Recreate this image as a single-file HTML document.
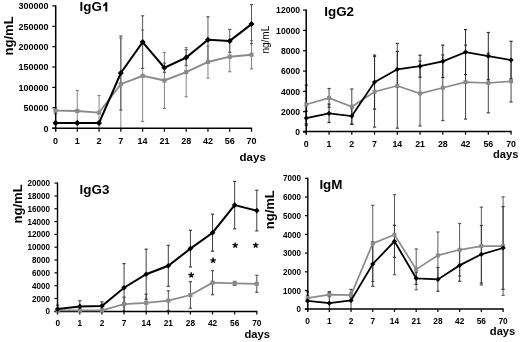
<!DOCTYPE html>
<html><head><meta charset="utf-8"><title>Immunoglobulin levels</title>
<style>
html,body{margin:0;padding:0;background:#fff;}
body{width:520px;height:342px;overflow:hidden;}
svg{display:block;will-change:transform;}
text{font-family:"Liberation Sans", sans-serif;fill:#000;}
</style></head>
<body>
<svg width="520" height="342" viewBox="0 0 520 342">
<rect x="0" y="0" width="520" height="342" fill="#fff"/>
<line x1="55.5" y1="107.6" x2="55.5" y2="113.6" stroke="#858585" stroke-width="1.0"/>
<line x1="53.9" y1="107.6" x2="57.1" y2="107.6" stroke="#858585" stroke-width="1.2"/>
<line x1="53.9" y1="113.6" x2="57.1" y2="113.6" stroke="#858585" stroke-width="1.2"/>
<line x1="77.28" y1="90.5" x2="77.28" y2="128.2" stroke="#858585" stroke-width="1.0"/>
<line x1="75.68" y1="90.5" x2="78.88" y2="90.5" stroke="#858585" stroke-width="1.2"/>
<line x1="99.06" y1="95.5" x2="99.06" y2="128.2" stroke="#858585" stroke-width="1.0"/>
<line x1="97.46" y1="95.5" x2="100.66" y2="95.5" stroke="#858585" stroke-width="1.2"/>
<line x1="120.84" y1="38.2" x2="120.84" y2="128.2" stroke="#858585" stroke-width="1.0"/>
<line x1="119.24" y1="38.2" x2="122.44" y2="38.2" stroke="#858585" stroke-width="1.2"/>
<line x1="142.62" y1="30.1" x2="142.62" y2="121.5" stroke="#858585" stroke-width="1.0"/>
<line x1="141.02" y1="30.1" x2="144.22" y2="30.1" stroke="#858585" stroke-width="1.2"/>
<line x1="141.02" y1="121.5" x2="144.22" y2="121.5" stroke="#858585" stroke-width="1.2"/>
<line x1="164.4" y1="52.5" x2="164.4" y2="108.5" stroke="#858585" stroke-width="1.0"/>
<line x1="162.8" y1="52.5" x2="166" y2="52.5" stroke="#858585" stroke-width="1.2"/>
<line x1="162.8" y1="108.5" x2="166" y2="108.5" stroke="#858585" stroke-width="1.2"/>
<line x1="186.18" y1="47.5" x2="186.18" y2="96.7" stroke="#858585" stroke-width="1.0"/>
<line x1="184.58" y1="47.5" x2="187.78" y2="47.5" stroke="#858585" stroke-width="1.2"/>
<line x1="184.58" y1="96.7" x2="187.78" y2="96.7" stroke="#858585" stroke-width="1.2"/>
<line x1="207.96" y1="46" x2="207.96" y2="78" stroke="#858585" stroke-width="1.0"/>
<line x1="206.36" y1="46" x2="209.56" y2="46" stroke="#858585" stroke-width="1.2"/>
<line x1="206.36" y1="78" x2="209.56" y2="78" stroke="#858585" stroke-width="1.2"/>
<line x1="229.74" y1="41.7" x2="229.74" y2="71.7" stroke="#858585" stroke-width="1.0"/>
<line x1="228.14" y1="41.7" x2="231.34" y2="41.7" stroke="#858585" stroke-width="1.2"/>
<line x1="228.14" y1="71.7" x2="231.34" y2="71.7" stroke="#858585" stroke-width="1.2"/>
<line x1="251.52" y1="40.5" x2="251.52" y2="68.9" stroke="#858585" stroke-width="1.0"/>
<line x1="249.92" y1="40.5" x2="253.12" y2="40.5" stroke="#858585" stroke-width="1.2"/>
<line x1="249.92" y1="68.9" x2="253.12" y2="68.9" stroke="#858585" stroke-width="1.2"/>
<line x1="55.5" y1="121.4" x2="55.5" y2="124.4" stroke="#5a5a5a" stroke-width="1.0"/>
<line x1="53.9" y1="121.4" x2="57.1" y2="121.4" stroke="#5a5a5a" stroke-width="1.2"/>
<line x1="53.9" y1="124.4" x2="57.1" y2="124.4" stroke="#5a5a5a" stroke-width="1.2"/>
<line x1="77.28" y1="121.4" x2="77.28" y2="124.4" stroke="#5a5a5a" stroke-width="1.0"/>
<line x1="75.68" y1="121.4" x2="78.88" y2="121.4" stroke="#5a5a5a" stroke-width="1.2"/>
<line x1="75.68" y1="124.4" x2="78.88" y2="124.4" stroke="#5a5a5a" stroke-width="1.2"/>
<line x1="99.06" y1="121.4" x2="99.06" y2="124.4" stroke="#5a5a5a" stroke-width="1.0"/>
<line x1="97.46" y1="121.4" x2="100.66" y2="121.4" stroke="#5a5a5a" stroke-width="1.2"/>
<line x1="97.46" y1="124.4" x2="100.66" y2="124.4" stroke="#5a5a5a" stroke-width="1.2"/>
<line x1="120.84" y1="36" x2="120.84" y2="110" stroke="#5a5a5a" stroke-width="1.0"/>
<line x1="119.24" y1="36" x2="122.44" y2="36" stroke="#5a5a5a" stroke-width="1.2"/>
<line x1="119.24" y1="110" x2="122.44" y2="110" stroke="#5a5a5a" stroke-width="1.2"/>
<line x1="142.62" y1="15.8" x2="142.62" y2="68.4" stroke="#5a5a5a" stroke-width="1.0"/>
<line x1="141.02" y1="15.8" x2="144.22" y2="15.8" stroke="#5a5a5a" stroke-width="1.2"/>
<line x1="141.02" y1="68.4" x2="144.22" y2="68.4" stroke="#5a5a5a" stroke-width="1.2"/>
<line x1="164.4" y1="63.1" x2="164.4" y2="72.3" stroke="#5a5a5a" stroke-width="1.0"/>
<line x1="162.8" y1="63.1" x2="166" y2="63.1" stroke="#5a5a5a" stroke-width="1.2"/>
<line x1="162.8" y1="72.3" x2="166" y2="72.3" stroke="#5a5a5a" stroke-width="1.2"/>
<line x1="186.18" y1="49.7" x2="186.18" y2="65.5" stroke="#5a5a5a" stroke-width="1.0"/>
<line x1="184.58" y1="49.7" x2="187.78" y2="49.7" stroke="#5a5a5a" stroke-width="1.2"/>
<line x1="184.58" y1="65.5" x2="187.78" y2="65.5" stroke="#5a5a5a" stroke-width="1.2"/>
<line x1="207.96" y1="16.8" x2="207.96" y2="62.8" stroke="#5a5a5a" stroke-width="1.0"/>
<line x1="206.36" y1="16.8" x2="209.56" y2="16.8" stroke="#5a5a5a" stroke-width="1.2"/>
<line x1="206.36" y1="62.8" x2="209.56" y2="62.8" stroke="#5a5a5a" stroke-width="1.2"/>
<line x1="229.74" y1="29.4" x2="229.74" y2="52.4" stroke="#5a5a5a" stroke-width="1.0"/>
<line x1="228.14" y1="29.4" x2="231.34" y2="29.4" stroke="#5a5a5a" stroke-width="1.2"/>
<line x1="228.14" y1="52.4" x2="231.34" y2="52.4" stroke="#5a5a5a" stroke-width="1.2"/>
<line x1="251.52" y1="4.6" x2="251.52" y2="43.6" stroke="#5a5a5a" stroke-width="1.0"/>
<line x1="249.92" y1="4.6" x2="253.12" y2="4.6" stroke="#5a5a5a" stroke-width="1.2"/>
<line x1="249.92" y1="43.6" x2="253.12" y2="43.6" stroke="#5a5a5a" stroke-width="1.2"/>
<line x1="55.7" y1="5.3" x2="55.7" y2="131.7" stroke="#000" stroke-width="1.5"/>
<line x1="52.3" y1="128.3" x2="252.12" y2="128.3" stroke="#000" stroke-width="1.5"/>
<line x1="52.3" y1="5.9" x2="55.7" y2="5.9" stroke="#000" stroke-width="1.2"/>
<line x1="52.3" y1="26.28" x2="55.7" y2="26.28" stroke="#000" stroke-width="1.2"/>
<line x1="52.3" y1="46.67" x2="55.7" y2="46.67" stroke="#000" stroke-width="1.2"/>
<line x1="52.3" y1="67.05" x2="55.7" y2="67.05" stroke="#000" stroke-width="1.2"/>
<line x1="52.3" y1="87.43" x2="55.7" y2="87.43" stroke="#000" stroke-width="1.2"/>
<line x1="52.3" y1="107.82" x2="55.7" y2="107.82" stroke="#000" stroke-width="1.2"/>
<line x1="52.3" y1="128.2" x2="55.7" y2="128.2" stroke="#000" stroke-width="1.2"/>
<line x1="77.28" y1="128.3" x2="77.28" y2="131.7" stroke="#000" stroke-width="1.2"/>
<line x1="99.06" y1="128.3" x2="99.06" y2="131.7" stroke="#000" stroke-width="1.2"/>
<line x1="120.84" y1="128.3" x2="120.84" y2="131.7" stroke="#000" stroke-width="1.2"/>
<line x1="142.62" y1="128.3" x2="142.62" y2="131.7" stroke="#000" stroke-width="1.2"/>
<line x1="164.4" y1="128.3" x2="164.4" y2="131.7" stroke="#000" stroke-width="1.2"/>
<line x1="186.18" y1="128.3" x2="186.18" y2="131.7" stroke="#000" stroke-width="1.2"/>
<line x1="207.96" y1="128.3" x2="207.96" y2="131.7" stroke="#000" stroke-width="1.2"/>
<line x1="229.74" y1="128.3" x2="229.74" y2="131.7" stroke="#000" stroke-width="1.2"/>
<line x1="251.52" y1="128.3" x2="251.52" y2="131.7" stroke="#000" stroke-width="1.2"/>
<text transform="translate(48.6 9.3) scale(1 1.1)" text-anchor="end" font-size="9" font-weight="bold">300000</text>
<text transform="translate(48.6 29.68) scale(1 1.1)" text-anchor="end" font-size="9" font-weight="bold">250000</text>
<text transform="translate(48.6 50.07) scale(1 1.1)" text-anchor="end" font-size="9" font-weight="bold">200000</text>
<text transform="translate(48.6 70.45) scale(1 1.1)" text-anchor="end" font-size="9" font-weight="bold">150000</text>
<text transform="translate(48.6 90.83) scale(1 1.1)" text-anchor="end" font-size="9" font-weight="bold">100000</text>
<text transform="translate(48.6 111.22) scale(1 1.1)" text-anchor="end" font-size="9" font-weight="bold">50000</text>
<text transform="translate(48.6 131.6) scale(1 1.1)" text-anchor="end" font-size="9" font-weight="bold">0</text>
<text x="55.5" y="144.3" text-anchor="middle" font-size="9" font-weight="bold">0</text>
<text x="77.28" y="144.3" text-anchor="middle" font-size="9" font-weight="bold">1</text>
<text x="99.06" y="144.3" text-anchor="middle" font-size="9" font-weight="bold">2</text>
<text x="120.84" y="144.3" text-anchor="middle" font-size="9" font-weight="bold">7</text>
<text x="142.62" y="144.3" text-anchor="middle" font-size="9" font-weight="bold">14</text>
<text x="164.4" y="144.3" text-anchor="middle" font-size="9" font-weight="bold">21</text>
<text x="186.18" y="144.3" text-anchor="middle" font-size="9" font-weight="bold">28</text>
<text x="207.96" y="144.3" text-anchor="middle" font-size="9" font-weight="bold">42</text>
<text x="229.74" y="144.3" text-anchor="middle" font-size="9" font-weight="bold">56</text>
<text x="251.52" y="144.3" text-anchor="middle" font-size="9" font-weight="bold">70</text>
<polyline points="55.5,110.6 77.28,111 99.06,112.6 120.84,84.2 142.62,75.8 164.4,80.5 186.18,72.1 207.96,62 229.74,56.7 251.52,54.7" fill="none" stroke="#8a8a8a" stroke-width="1.9" stroke-linejoin="miter"/>
<rect x="53.4" y="108.5" width="4.2" height="4.2" fill="#8a8a8a"/>
<rect x="75.18" y="108.9" width="4.2" height="4.2" fill="#8a8a8a"/>
<rect x="96.96" y="110.5" width="4.2" height="4.2" fill="#8a8a8a"/>
<rect x="118.74" y="82.1" width="4.2" height="4.2" fill="#8a8a8a"/>
<rect x="140.52" y="73.7" width="4.2" height="4.2" fill="#8a8a8a"/>
<rect x="162.3" y="78.4" width="4.2" height="4.2" fill="#8a8a8a"/>
<rect x="184.08" y="70" width="4.2" height="4.2" fill="#8a8a8a"/>
<rect x="205.86" y="59.9" width="4.2" height="4.2" fill="#8a8a8a"/>
<rect x="227.64" y="54.6" width="4.2" height="4.2" fill="#8a8a8a"/>
<rect x="249.42" y="52.6" width="4.2" height="4.2" fill="#8a8a8a"/>
<polyline points="55.5,122.9 77.28,122.9 99.06,122.9 120.84,73 142.62,42.1 164.4,67.7 186.18,57.6 207.96,39.8 229.74,40.9 251.52,24.1" fill="none" stroke="#000" stroke-width="2.0" stroke-linejoin="miter"/>
<path d="M55.5 119.9L58.5 122.9L55.5 125.9L52.5 122.9Z" fill="#000"/>
<path d="M77.28 119.9L80.28 122.9L77.28 125.9L74.28 122.9Z" fill="#000"/>
<path d="M99.06 119.9L102.06 122.9L99.06 125.9L96.06 122.9Z" fill="#000"/>
<path d="M120.84 70L123.84 73L120.84 76L117.84 73Z" fill="#000"/>
<path d="M142.62 39.1L145.62 42.1L142.62 45.1L139.62 42.1Z" fill="#000"/>
<path d="M164.4 64.7L167.4 67.7L164.4 70.7L161.4 67.7Z" fill="#000"/>
<path d="M186.18 54.6L189.18 57.6L186.18 60.6L183.18 57.6Z" fill="#000"/>
<path d="M207.96 36.8L210.96 39.8L207.96 42.8L204.96 39.8Z" fill="#000"/>
<path d="M229.74 37.9L232.74 40.9L229.74 43.9L226.74 40.9Z" fill="#000"/>
<path d="M251.52 21.1L254.52 24.1L251.52 27.1L248.52 24.1Z" fill="#000"/>
<text x="79.5" y="11.3" font-size="13.4" font-weight="bold">IgG</text>
<path d="M105.3 2.2H107.3V11.4H105.3V5.3Q104.5 6.1 103.2 6.5V4.7Q104.7 4.0 105.3 2.2Z" fill="#000"/>
<text x="239.6" y="160.7" font-size="11.5" font-weight="bold">days</text>
<text transform="translate(12.8 55.4) rotate(-90)" x="0" y="0" font-size="13" font-weight="bold">ng/mL</text>
<line x1="306.3" y1="85.2" x2="306.3" y2="123.8" stroke="#454545" stroke-width="1.0"/>
<line x1="304.7" y1="85.2" x2="307.9" y2="85.2" stroke="#454545" stroke-width="1.2"/>
<line x1="304.7" y1="123.8" x2="307.9" y2="123.8" stroke="#454545" stroke-width="1.2"/>
<line x1="329.05" y1="88.5" x2="329.05" y2="107.3" stroke="#454545" stroke-width="1.0"/>
<line x1="327.45" y1="88.5" x2="330.65" y2="88.5" stroke="#454545" stroke-width="1.2"/>
<line x1="327.45" y1="107.3" x2="330.65" y2="107.3" stroke="#454545" stroke-width="1.2"/>
<line x1="351.8" y1="89" x2="351.8" y2="124.4" stroke="#454545" stroke-width="1.0"/>
<line x1="350.2" y1="89" x2="353.4" y2="89" stroke="#454545" stroke-width="1.2"/>
<line x1="350.2" y1="124.4" x2="353.4" y2="124.4" stroke="#454545" stroke-width="1.2"/>
<line x1="374.55" y1="56.5" x2="374.55" y2="127.1" stroke="#454545" stroke-width="1.0"/>
<line x1="372.95" y1="56.5" x2="376.15" y2="56.5" stroke="#454545" stroke-width="1.2"/>
<line x1="372.95" y1="127.1" x2="376.15" y2="127.1" stroke="#454545" stroke-width="1.2"/>
<line x1="397.3" y1="43.4" x2="397.3" y2="128.2" stroke="#454545" stroke-width="1.0"/>
<line x1="395.7" y1="43.4" x2="398.9" y2="43.4" stroke="#454545" stroke-width="1.2"/>
<line x1="395.7" y1="128.2" x2="398.9" y2="128.2" stroke="#454545" stroke-width="1.2"/>
<line x1="420.05" y1="61" x2="420.05" y2="126" stroke="#454545" stroke-width="1.0"/>
<line x1="418.45" y1="61" x2="421.65" y2="61" stroke="#454545" stroke-width="1.2"/>
<line x1="418.45" y1="126" x2="421.65" y2="126" stroke="#454545" stroke-width="1.2"/>
<line x1="442.8" y1="54.9" x2="442.8" y2="120.5" stroke="#454545" stroke-width="1.0"/>
<line x1="441.2" y1="54.9" x2="444.4" y2="54.9" stroke="#454545" stroke-width="1.2"/>
<line x1="441.2" y1="120.5" x2="444.4" y2="120.5" stroke="#454545" stroke-width="1.2"/>
<line x1="465.55" y1="45.1" x2="465.55" y2="119.1" stroke="#454545" stroke-width="1.0"/>
<line x1="463.95" y1="45.1" x2="467.15" y2="45.1" stroke="#454545" stroke-width="1.2"/>
<line x1="463.95" y1="119.1" x2="467.15" y2="119.1" stroke="#454545" stroke-width="1.2"/>
<line x1="488.3" y1="53.2" x2="488.3" y2="112.8" stroke="#454545" stroke-width="1.0"/>
<line x1="486.7" y1="53.2" x2="489.9" y2="53.2" stroke="#454545" stroke-width="1.2"/>
<line x1="486.7" y1="112.8" x2="489.9" y2="112.8" stroke="#454545" stroke-width="1.2"/>
<line x1="511.05" y1="60.4" x2="511.05" y2="102" stroke="#454545" stroke-width="1.0"/>
<line x1="509.45" y1="60.4" x2="512.65" y2="60.4" stroke="#454545" stroke-width="1.2"/>
<line x1="509.45" y1="102" x2="512.65" y2="102" stroke="#454545" stroke-width="1.2"/>
<line x1="306.3" y1="111.1" x2="306.3" y2="125.1" stroke="#2a2a2a" stroke-width="1.0"/>
<line x1="304.7" y1="111.1" x2="307.9" y2="111.1" stroke="#2a2a2a" stroke-width="1.2"/>
<line x1="304.7" y1="125.1" x2="307.9" y2="125.1" stroke="#2a2a2a" stroke-width="1.2"/>
<line x1="329.05" y1="104.1" x2="329.05" y2="122.5" stroke="#2a2a2a" stroke-width="1.0"/>
<line x1="327.45" y1="104.1" x2="330.65" y2="104.1" stroke="#2a2a2a" stroke-width="1.2"/>
<line x1="327.45" y1="122.5" x2="330.65" y2="122.5" stroke="#2a2a2a" stroke-width="1.2"/>
<line x1="351.8" y1="108.1" x2="351.8" y2="124.1" stroke="#2a2a2a" stroke-width="1.0"/>
<line x1="350.2" y1="108.1" x2="353.4" y2="108.1" stroke="#2a2a2a" stroke-width="1.2"/>
<line x1="350.2" y1="124.1" x2="353.4" y2="124.1" stroke="#2a2a2a" stroke-width="1.2"/>
<line x1="374.55" y1="55.1" x2="374.55" y2="109.1" stroke="#2a2a2a" stroke-width="1.0"/>
<line x1="372.95" y1="55.1" x2="376.15" y2="55.1" stroke="#2a2a2a" stroke-width="1.2"/>
<line x1="372.95" y1="109.1" x2="376.15" y2="109.1" stroke="#2a2a2a" stroke-width="1.2"/>
<line x1="397.3" y1="51.5" x2="397.3" y2="87.1" stroke="#2a2a2a" stroke-width="1.0"/>
<line x1="395.7" y1="51.5" x2="398.9" y2="51.5" stroke="#2a2a2a" stroke-width="1.2"/>
<line x1="395.7" y1="87.1" x2="398.9" y2="87.1" stroke="#2a2a2a" stroke-width="1.2"/>
<line x1="420.05" y1="55.2" x2="420.05" y2="77.2" stroke="#2a2a2a" stroke-width="1.0"/>
<line x1="418.45" y1="55.2" x2="421.65" y2="55.2" stroke="#2a2a2a" stroke-width="1.2"/>
<line x1="418.45" y1="77.2" x2="421.65" y2="77.2" stroke="#2a2a2a" stroke-width="1.2"/>
<line x1="442.8" y1="45.1" x2="442.8" y2="77.5" stroke="#2a2a2a" stroke-width="1.0"/>
<line x1="441.2" y1="45.1" x2="444.4" y2="45.1" stroke="#2a2a2a" stroke-width="1.2"/>
<line x1="441.2" y1="77.5" x2="444.4" y2="77.5" stroke="#2a2a2a" stroke-width="1.2"/>
<line x1="465.55" y1="29.6" x2="465.55" y2="74.6" stroke="#2a2a2a" stroke-width="1.0"/>
<line x1="463.95" y1="29.6" x2="467.15" y2="29.6" stroke="#2a2a2a" stroke-width="1.2"/>
<line x1="463.95" y1="74.6" x2="467.15" y2="74.6" stroke="#2a2a2a" stroke-width="1.2"/>
<line x1="488.3" y1="32.5" x2="488.3" y2="79.7" stroke="#2a2a2a" stroke-width="1.0"/>
<line x1="486.7" y1="32.5" x2="489.9" y2="32.5" stroke="#2a2a2a" stroke-width="1.2"/>
<line x1="486.7" y1="79.7" x2="489.9" y2="79.7" stroke="#2a2a2a" stroke-width="1.2"/>
<line x1="511.05" y1="41.3" x2="511.05" y2="78.9" stroke="#2a2a2a" stroke-width="1.0"/>
<line x1="509.45" y1="41.3" x2="512.65" y2="41.3" stroke="#2a2a2a" stroke-width="1.2"/>
<line x1="509.45" y1="78.9" x2="512.65" y2="78.9" stroke="#2a2a2a" stroke-width="1.2"/>
<line x1="306.2" y1="9.5" x2="306.2" y2="134.7" stroke="#000" stroke-width="1.5"/>
<line x1="303" y1="131.5" x2="511.65" y2="131.5" stroke="#000" stroke-width="1.3"/>
<line x1="303" y1="10.1" x2="306.2" y2="10.1" stroke="#000" stroke-width="1.2"/>
<line x1="303" y1="30.42" x2="306.2" y2="30.42" stroke="#000" stroke-width="1.2"/>
<line x1="303" y1="50.73" x2="306.2" y2="50.73" stroke="#000" stroke-width="1.2"/>
<line x1="303" y1="71.05" x2="306.2" y2="71.05" stroke="#000" stroke-width="1.2"/>
<line x1="303" y1="91.37" x2="306.2" y2="91.37" stroke="#000" stroke-width="1.2"/>
<line x1="303" y1="111.68" x2="306.2" y2="111.68" stroke="#000" stroke-width="1.2"/>
<line x1="303" y1="132" x2="306.2" y2="132" stroke="#000" stroke-width="1.2"/>
<line x1="329.05" y1="131.5" x2="329.05" y2="134.7" stroke="#000" stroke-width="1.2"/>
<line x1="351.8" y1="131.5" x2="351.8" y2="134.7" stroke="#000" stroke-width="1.2"/>
<line x1="374.55" y1="131.5" x2="374.55" y2="134.7" stroke="#000" stroke-width="1.2"/>
<line x1="397.3" y1="131.5" x2="397.3" y2="134.7" stroke="#000" stroke-width="1.2"/>
<line x1="420.05" y1="131.5" x2="420.05" y2="134.7" stroke="#000" stroke-width="1.2"/>
<line x1="442.8" y1="131.5" x2="442.8" y2="134.7" stroke="#000" stroke-width="1.2"/>
<line x1="465.55" y1="131.5" x2="465.55" y2="134.7" stroke="#000" stroke-width="1.2"/>
<line x1="488.3" y1="131.5" x2="488.3" y2="134.7" stroke="#000" stroke-width="1.2"/>
<line x1="511.05" y1="131.5" x2="511.05" y2="134.7" stroke="#000" stroke-width="1.2"/>
<text transform="translate(300 13.4) scale(1 1.1)" text-anchor="end" font-size="8.6" font-weight="bold">12000</text>
<text transform="translate(300 33.72) scale(1 1.1)" text-anchor="end" font-size="8.6" font-weight="bold">10000</text>
<text transform="translate(300 54.03) scale(1 1.1)" text-anchor="end" font-size="8.6" font-weight="bold">8000</text>
<text transform="translate(300 74.35) scale(1 1.1)" text-anchor="end" font-size="8.6" font-weight="bold">6000</text>
<text transform="translate(300 94.67) scale(1 1.1)" text-anchor="end" font-size="8.6" font-weight="bold">4000</text>
<text transform="translate(300 114.98) scale(1 1.1)" text-anchor="end" font-size="8.6" font-weight="bold">2000</text>
<text transform="translate(300 135.3) scale(1 1.1)" text-anchor="end" font-size="8.6" font-weight="bold">0</text>
<text x="306.3" y="147.2" text-anchor="middle" font-size="8.8" font-weight="bold">0</text>
<text x="329.05" y="147.2" text-anchor="middle" font-size="8.8" font-weight="bold">1</text>
<text x="351.8" y="147.2" text-anchor="middle" font-size="8.8" font-weight="bold">2</text>
<text x="374.55" y="147.2" text-anchor="middle" font-size="8.8" font-weight="bold">7</text>
<text x="397.3" y="147.2" text-anchor="middle" font-size="8.8" font-weight="bold">14</text>
<text x="420.05" y="147.2" text-anchor="middle" font-size="8.8" font-weight="bold">21</text>
<text x="442.8" y="147.2" text-anchor="middle" font-size="8.8" font-weight="bold">28</text>
<text x="465.55" y="147.2" text-anchor="middle" font-size="8.8" font-weight="bold">42</text>
<text x="488.3" y="147.2" text-anchor="middle" font-size="8.8" font-weight="bold">56</text>
<text x="511.05" y="147.2" text-anchor="middle" font-size="8.8" font-weight="bold">70</text>
<polyline points="306.3,104.5 329.05,97.9 351.8,106.7 374.55,91.8 397.3,85.8 420.05,93.5 442.8,87.7 465.55,82.1 488.3,83 511.05,81.2" fill="none" stroke="#8a8a8a" stroke-width="1.7" stroke-linejoin="miter"/>
<rect x="304.3" y="102.5" width="4" height="4" fill="#8a8a8a"/>
<rect x="327.05" y="95.9" width="4" height="4" fill="#8a8a8a"/>
<rect x="349.8" y="104.7" width="4" height="4" fill="#8a8a8a"/>
<rect x="372.55" y="89.8" width="4" height="4" fill="#8a8a8a"/>
<rect x="395.3" y="83.8" width="4" height="4" fill="#8a8a8a"/>
<rect x="418.05" y="91.5" width="4" height="4" fill="#8a8a8a"/>
<rect x="440.8" y="85.7" width="4" height="4" fill="#8a8a8a"/>
<rect x="463.55" y="80.1" width="4" height="4" fill="#8a8a8a"/>
<rect x="486.3" y="81" width="4" height="4" fill="#8a8a8a"/>
<rect x="509.05" y="79.2" width="4" height="4" fill="#8a8a8a"/>
<polyline points="306.3,118.1 329.05,113.3 351.8,116.1 374.55,82.1 397.3,69.3 420.05,66.2 442.8,61.3 465.55,52.1 488.3,56.1 511.05,60.1" fill="none" stroke="#000" stroke-width="1.8" stroke-linejoin="miter"/>
<path d="M306.3 115.5L308.9 118.1L306.3 120.7L303.7 118.1Z" fill="#000"/>
<path d="M329.05 110.7L331.65 113.3L329.05 115.9L326.45 113.3Z" fill="#000"/>
<path d="M351.8 113.5L354.4 116.1L351.8 118.7L349.2 116.1Z" fill="#000"/>
<path d="M374.55 79.5L377.15 82.1L374.55 84.7L371.95 82.1Z" fill="#000"/>
<path d="M397.3 66.7L399.9 69.3L397.3 71.9L394.7 69.3Z" fill="#000"/>
<path d="M420.05 63.6L422.65 66.2L420.05 68.8L417.45 66.2Z" fill="#000"/>
<path d="M442.8 58.7L445.4 61.3L442.8 63.9L440.2 61.3Z" fill="#000"/>
<path d="M465.55 49.5L468.15 52.1L465.55 54.7L462.95 52.1Z" fill="#000"/>
<path d="M488.3 53.5L490.9 56.1L488.3 58.7L485.7 56.1Z" fill="#000"/>
<path d="M511.05 57.5L513.65 60.1L511.05 62.7L508.45 60.1Z" fill="#000"/>
<text x="324.3" y="15.8" font-size="13.4" font-weight="bold">IgG2</text>
<text x="493" y="158" font-size="11.2" font-weight="bold">days</text>
<text transform="translate(268.8 53.6) rotate(-90)" x="0" y="0" font-size="10">ng/mL</text>
<line x1="57.7" y1="309.3" x2="57.7" y2="311.3" stroke="#505050" stroke-width="1.0"/>
<line x1="56.1" y1="309.3" x2="59.3" y2="309.3" stroke="#505050" stroke-width="1.2"/>
<line x1="56.1" y1="311.3" x2="59.3" y2="311.3" stroke="#505050" stroke-width="1.2"/>
<line x1="79.82" y1="309.3" x2="79.82" y2="311.3" stroke="#505050" stroke-width="1.0"/>
<line x1="78.22" y1="309.3" x2="81.42" y2="309.3" stroke="#505050" stroke-width="1.2"/>
<line x1="78.22" y1="311.3" x2="81.42" y2="311.3" stroke="#505050" stroke-width="1.2"/>
<line x1="101.94" y1="309.3" x2="101.94" y2="311.3" stroke="#505050" stroke-width="1.0"/>
<line x1="100.34" y1="309.3" x2="103.54" y2="309.3" stroke="#505050" stroke-width="1.2"/>
<line x1="100.34" y1="311.3" x2="103.54" y2="311.3" stroke="#505050" stroke-width="1.2"/>
<line x1="124.06" y1="297.1" x2="124.06" y2="311.1" stroke="#505050" stroke-width="1.0"/>
<line x1="122.46" y1="297.1" x2="125.66" y2="297.1" stroke="#505050" stroke-width="1.2"/>
<line x1="122.46" y1="311.1" x2="125.66" y2="311.1" stroke="#505050" stroke-width="1.2"/>
<line x1="146.18" y1="294.2" x2="146.18" y2="311.3" stroke="#505050" stroke-width="1.0"/>
<line x1="144.58" y1="294.2" x2="147.78" y2="294.2" stroke="#505050" stroke-width="1.2"/>
<line x1="168.3" y1="290.8" x2="168.3" y2="310.4" stroke="#505050" stroke-width="1.0"/>
<line x1="166.7" y1="290.8" x2="169.9" y2="290.8" stroke="#505050" stroke-width="1.2"/>
<line x1="166.7" y1="310.4" x2="169.9" y2="310.4" stroke="#505050" stroke-width="1.2"/>
<line x1="190.42" y1="281.7" x2="190.42" y2="308.3" stroke="#505050" stroke-width="1.0"/>
<line x1="188.82" y1="281.7" x2="192.02" y2="281.7" stroke="#505050" stroke-width="1.2"/>
<line x1="188.82" y1="308.3" x2="192.02" y2="308.3" stroke="#505050" stroke-width="1.2"/>
<line x1="212.54" y1="270.7" x2="212.54" y2="294.7" stroke="#505050" stroke-width="1.0"/>
<line x1="210.94" y1="270.7" x2="214.14" y2="270.7" stroke="#505050" stroke-width="1.2"/>
<line x1="210.94" y1="294.7" x2="214.14" y2="294.7" stroke="#505050" stroke-width="1.2"/>
<line x1="234.66" y1="281.4" x2="234.66" y2="285.4" stroke="#505050" stroke-width="1.0"/>
<line x1="233.06" y1="281.4" x2="236.26" y2="281.4" stroke="#505050" stroke-width="1.2"/>
<line x1="233.06" y1="285.4" x2="236.26" y2="285.4" stroke="#505050" stroke-width="1.2"/>
<line x1="256.78" y1="275.3" x2="256.78" y2="292.3" stroke="#505050" stroke-width="1.0"/>
<line x1="255.18" y1="275.3" x2="258.38" y2="275.3" stroke="#505050" stroke-width="1.2"/>
<line x1="255.18" y1="292.3" x2="258.38" y2="292.3" stroke="#505050" stroke-width="1.2"/>
<line x1="57.7" y1="305.1" x2="57.7" y2="311.3" stroke="#404040" stroke-width="1.0"/>
<line x1="56.1" y1="305.1" x2="59.3" y2="305.1" stroke="#404040" stroke-width="1.2"/>
<line x1="79.82" y1="300.8" x2="79.82" y2="311.3" stroke="#404040" stroke-width="1.0"/>
<line x1="78.22" y1="300.8" x2="81.42" y2="300.8" stroke="#404040" stroke-width="1.2"/>
<line x1="101.94" y1="301.9" x2="101.94" y2="309.9" stroke="#404040" stroke-width="1.0"/>
<line x1="100.34" y1="301.9" x2="103.54" y2="301.9" stroke="#404040" stroke-width="1.2"/>
<line x1="100.34" y1="309.9" x2="103.54" y2="309.9" stroke="#404040" stroke-width="1.2"/>
<line x1="124.06" y1="263.6" x2="124.06" y2="311.3" stroke="#404040" stroke-width="1.0"/>
<line x1="122.46" y1="263.6" x2="125.66" y2="263.6" stroke="#404040" stroke-width="1.2"/>
<line x1="146.18" y1="249.2" x2="146.18" y2="299.2" stroke="#404040" stroke-width="1.0"/>
<line x1="144.58" y1="249.2" x2="147.78" y2="249.2" stroke="#404040" stroke-width="1.2"/>
<line x1="144.58" y1="299.2" x2="147.78" y2="299.2" stroke="#404040" stroke-width="1.2"/>
<line x1="168.3" y1="245.3" x2="168.3" y2="286.3" stroke="#404040" stroke-width="1.0"/>
<line x1="166.7" y1="245.3" x2="169.9" y2="245.3" stroke="#404040" stroke-width="1.2"/>
<line x1="166.7" y1="286.3" x2="169.9" y2="286.3" stroke="#404040" stroke-width="1.2"/>
<line x1="190.42" y1="230.3" x2="190.42" y2="266.9" stroke="#404040" stroke-width="1.0"/>
<line x1="188.82" y1="230.3" x2="192.02" y2="230.3" stroke="#404040" stroke-width="1.2"/>
<line x1="188.82" y1="266.9" x2="192.02" y2="266.9" stroke="#404040" stroke-width="1.2"/>
<line x1="212.54" y1="214.2" x2="212.54" y2="251.2" stroke="#404040" stroke-width="1.0"/>
<line x1="210.94" y1="214.2" x2="214.14" y2="214.2" stroke="#404040" stroke-width="1.2"/>
<line x1="210.94" y1="251.2" x2="214.14" y2="251.2" stroke="#404040" stroke-width="1.2"/>
<line x1="234.66" y1="181.4" x2="234.66" y2="228.8" stroke="#404040" stroke-width="1.0"/>
<line x1="233.06" y1="181.4" x2="236.26" y2="181.4" stroke="#404040" stroke-width="1.2"/>
<line x1="233.06" y1="228.8" x2="236.26" y2="228.8" stroke="#404040" stroke-width="1.2"/>
<line x1="256.78" y1="190.3" x2="256.78" y2="230.9" stroke="#404040" stroke-width="1.0"/>
<line x1="255.18" y1="190.3" x2="258.38" y2="190.3" stroke="#404040" stroke-width="1.2"/>
<line x1="255.18" y1="230.9" x2="258.38" y2="230.9" stroke="#404040" stroke-width="1.2"/>
<line x1="57.5" y1="182.5" x2="57.5" y2="314.5" stroke="#000" stroke-width="1.4"/>
<line x1="54.5" y1="311.5" x2="257.38" y2="311.5" stroke="#000" stroke-width="1.3"/>
<line x1="54.5" y1="183.1" x2="57.5" y2="183.1" stroke="#000" stroke-width="1.2"/>
<line x1="54.5" y1="195.92" x2="57.5" y2="195.92" stroke="#000" stroke-width="1.2"/>
<line x1="54.5" y1="208.74" x2="57.5" y2="208.74" stroke="#000" stroke-width="1.2"/>
<line x1="54.5" y1="221.56" x2="57.5" y2="221.56" stroke="#000" stroke-width="1.2"/>
<line x1="54.5" y1="234.38" x2="57.5" y2="234.38" stroke="#000" stroke-width="1.2"/>
<line x1="54.5" y1="247.2" x2="57.5" y2="247.2" stroke="#000" stroke-width="1.2"/>
<line x1="54.5" y1="260.02" x2="57.5" y2="260.02" stroke="#000" stroke-width="1.2"/>
<line x1="54.5" y1="272.84" x2="57.5" y2="272.84" stroke="#000" stroke-width="1.2"/>
<line x1="54.5" y1="285.66" x2="57.5" y2="285.66" stroke="#000" stroke-width="1.2"/>
<line x1="54.5" y1="298.48" x2="57.5" y2="298.48" stroke="#000" stroke-width="1.2"/>
<line x1="54.5" y1="311.3" x2="57.5" y2="311.3" stroke="#000" stroke-width="1.2"/>
<line x1="79.82" y1="311.5" x2="79.82" y2="314.5" stroke="#000" stroke-width="1.2"/>
<line x1="101.94" y1="311.5" x2="101.94" y2="314.5" stroke="#000" stroke-width="1.2"/>
<line x1="124.06" y1="311.5" x2="124.06" y2="314.5" stroke="#000" stroke-width="1.2"/>
<line x1="146.18" y1="311.5" x2="146.18" y2="314.5" stroke="#000" stroke-width="1.2"/>
<line x1="168.3" y1="311.5" x2="168.3" y2="314.5" stroke="#000" stroke-width="1.2"/>
<line x1="190.42" y1="311.5" x2="190.42" y2="314.5" stroke="#000" stroke-width="1.2"/>
<line x1="212.54" y1="311.5" x2="212.54" y2="314.5" stroke="#000" stroke-width="1.2"/>
<line x1="234.66" y1="311.5" x2="234.66" y2="314.5" stroke="#000" stroke-width="1.2"/>
<line x1="256.78" y1="311.5" x2="256.78" y2="314.5" stroke="#000" stroke-width="1.2"/>
<text transform="translate(50 186.2) scale(1 1.17)" text-anchor="end" font-size="8.1" font-weight="bold">20000</text>
<text transform="translate(50 199.02) scale(1 1.17)" text-anchor="end" font-size="8.1" font-weight="bold">18000</text>
<text transform="translate(50 211.84) scale(1 1.17)" text-anchor="end" font-size="8.1" font-weight="bold">16000</text>
<text transform="translate(50 224.66) scale(1 1.17)" text-anchor="end" font-size="8.1" font-weight="bold">14000</text>
<text transform="translate(50 237.48) scale(1 1.17)" text-anchor="end" font-size="8.1" font-weight="bold">12000</text>
<text transform="translate(50 250.3) scale(1 1.17)" text-anchor="end" font-size="8.1" font-weight="bold">10000</text>
<text transform="translate(50 263.12) scale(1 1.17)" text-anchor="end" font-size="8.1" font-weight="bold">8000</text>
<text transform="translate(50 275.94) scale(1 1.17)" text-anchor="end" font-size="8.1" font-weight="bold">6000</text>
<text transform="translate(50 288.76) scale(1 1.17)" text-anchor="end" font-size="8.1" font-weight="bold">4000</text>
<text transform="translate(50 301.58) scale(1 1.17)" text-anchor="end" font-size="8.1" font-weight="bold">2000</text>
<text transform="translate(50 314.4) scale(1 1.17)" text-anchor="end" font-size="8.1" font-weight="bold">0</text>
<text x="57.7" y="326.2" text-anchor="middle" font-size="8.3" font-weight="bold">0</text>
<text x="79.82" y="326.2" text-anchor="middle" font-size="8.3" font-weight="bold">1</text>
<text x="101.94" y="326.2" text-anchor="middle" font-size="8.3" font-weight="bold">2</text>
<text x="124.06" y="326.2" text-anchor="middle" font-size="8.3" font-weight="bold">7</text>
<text x="146.18" y="326.2" text-anchor="middle" font-size="8.3" font-weight="bold">14</text>
<text x="168.3" y="326.2" text-anchor="middle" font-size="8.3" font-weight="bold">21</text>
<text x="190.42" y="326.2" text-anchor="middle" font-size="8.3" font-weight="bold">28</text>
<text x="212.54" y="326.2" text-anchor="middle" font-size="8.3" font-weight="bold">42</text>
<text x="234.66" y="326.2" text-anchor="middle" font-size="8.3" font-weight="bold">56</text>
<text x="256.78" y="326.2" text-anchor="middle" font-size="8.3" font-weight="bold">70</text>
<polyline points="57.7,310.3 79.82,310.3 101.94,310.3 124.06,304.1 146.18,302.8 168.3,300.6 190.42,295 212.54,282.7 234.66,283.4 256.78,283.8" fill="none" stroke="#8a8a8a" stroke-width="1.8" stroke-linejoin="miter"/>
<rect x="55.6" y="308.2" width="4.2" height="4.2" fill="#8a8a8a"/>
<rect x="77.72" y="308.2" width="4.2" height="4.2" fill="#8a8a8a"/>
<rect x="99.84" y="308.2" width="4.2" height="4.2" fill="#8a8a8a"/>
<rect x="121.96" y="302" width="4.2" height="4.2" fill="#8a8a8a"/>
<rect x="144.08" y="300.7" width="4.2" height="4.2" fill="#8a8a8a"/>
<rect x="166.2" y="298.5" width="4.2" height="4.2" fill="#8a8a8a"/>
<rect x="188.32" y="292.9" width="4.2" height="4.2" fill="#8a8a8a"/>
<rect x="210.44" y="280.6" width="4.2" height="4.2" fill="#8a8a8a"/>
<rect x="232.56" y="281.3" width="4.2" height="4.2" fill="#8a8a8a"/>
<rect x="254.68" y="281.7" width="4.2" height="4.2" fill="#8a8a8a"/>
<polyline points="57.7,309.1 79.82,306.4 101.94,305.9 124.06,287.7 146.18,274.2 168.3,265.8 190.42,248.6 212.54,232.7 234.66,205.1 256.78,210.6" fill="none" stroke="#000" stroke-width="2.0" stroke-linejoin="miter"/>
<path d="M57.7 306.3L60.5 309.1L57.7 311.9L54.9 309.1Z" fill="#000"/>
<path d="M79.82 303.6L82.62 306.4L79.82 309.2L77.02 306.4Z" fill="#000"/>
<path d="M101.94 303.1L104.74 305.9L101.94 308.7L99.14 305.9Z" fill="#000"/>
<path d="M124.06 284.9L126.86 287.7L124.06 290.5L121.26 287.7Z" fill="#000"/>
<path d="M146.18 271.4L148.98 274.2L146.18 277L143.38 274.2Z" fill="#000"/>
<path d="M168.3 263L171.1 265.8L168.3 268.6L165.5 265.8Z" fill="#000"/>
<path d="M190.42 245.8L193.22 248.6L190.42 251.4L187.62 248.6Z" fill="#000"/>
<path d="M212.54 229.9L215.34 232.7L212.54 235.5L209.74 232.7Z" fill="#000"/>
<path d="M234.66 202.3L237.46 205.1L234.66 207.9L231.86 205.1Z" fill="#000"/>
<path d="M256.78 207.8L259.58 210.6L256.78 213.4L253.98 210.6Z" fill="#000"/>
<text x="79.6" y="193.6" font-size="13.4" font-weight="bold">IgG3</text>
<text x="244.4" y="337.7" font-size="11.2" font-weight="bold">days</text>
<text transform="translate(21.9 223.4) rotate(-90)" x="0" y="0" font-size="13" font-weight="bold">ng/mL</text>
<path d="M191.2 275.1L191.2 272.2M191.2 275.1L193.96 274.2M191.2 275.1L192.9 277.45M191.2 275.1L189.5 277.45M191.2 275.1L188.44 274.2" stroke="#111" stroke-width="1.45" fill="none"/>
<path d="M213.1 260.5L213.1 257.6M213.1 260.5L215.86 259.6M213.1 260.5L214.8 262.85M213.1 260.5L211.4 262.85M213.1 260.5L210.34 259.6" stroke="#111" stroke-width="1.45" fill="none"/>
<path d="M235.2 245.3L235.2 242.4M235.2 245.3L237.96 244.4M235.2 245.3L236.9 247.65M235.2 245.3L233.5 247.65M235.2 245.3L232.44 244.4" stroke="#111" stroke-width="1.45" fill="none"/>
<path d="M255.7 245.3L255.7 242.4M255.7 245.3L258.46 244.4M255.7 245.3L257.4 247.65M255.7 245.3L254 247.65M255.7 245.3L252.94 244.4" stroke="#111" stroke-width="1.45" fill="none"/>
<line x1="307.6" y1="295.1" x2="307.6" y2="301.1" stroke="#5a5a5a" stroke-width="1.0"/>
<line x1="306" y1="295.1" x2="309.2" y2="295.1" stroke="#5a5a5a" stroke-width="1.2"/>
<line x1="306" y1="301.1" x2="309.2" y2="301.1" stroke="#5a5a5a" stroke-width="1.2"/>
<line x1="329.32" y1="292.6" x2="329.32" y2="296.6" stroke="#5a5a5a" stroke-width="1.0"/>
<line x1="327.72" y1="292.6" x2="330.92" y2="292.6" stroke="#5a5a5a" stroke-width="1.2"/>
<line x1="327.72" y1="296.6" x2="330.92" y2="296.6" stroke="#5a5a5a" stroke-width="1.2"/>
<line x1="351.04" y1="293.1" x2="351.04" y2="297.1" stroke="#5a5a5a" stroke-width="1.0"/>
<line x1="349.44" y1="293.1" x2="352.64" y2="293.1" stroke="#5a5a5a" stroke-width="1.2"/>
<line x1="349.44" y1="297.1" x2="352.64" y2="297.1" stroke="#5a5a5a" stroke-width="1.2"/>
<line x1="372.76" y1="205.3" x2="372.76" y2="281.5" stroke="#5a5a5a" stroke-width="1.0"/>
<line x1="371.16" y1="205.3" x2="374.36" y2="205.3" stroke="#5a5a5a" stroke-width="1.2"/>
<line x1="371.16" y1="281.5" x2="374.36" y2="281.5" stroke="#5a5a5a" stroke-width="1.2"/>
<line x1="394.48" y1="194.7" x2="394.48" y2="274.7" stroke="#5a5a5a" stroke-width="1.0"/>
<line x1="392.88" y1="194.7" x2="396.08" y2="194.7" stroke="#5a5a5a" stroke-width="1.2"/>
<line x1="392.88" y1="274.7" x2="396.08" y2="274.7" stroke="#5a5a5a" stroke-width="1.2"/>
<line x1="416.2" y1="249" x2="416.2" y2="289.8" stroke="#5a5a5a" stroke-width="1.0"/>
<line x1="414.6" y1="249" x2="417.8" y2="249" stroke="#5a5a5a" stroke-width="1.2"/>
<line x1="414.6" y1="289.8" x2="417.8" y2="289.8" stroke="#5a5a5a" stroke-width="1.2"/>
<line x1="437.92" y1="232" x2="437.92" y2="278.8" stroke="#5a5a5a" stroke-width="1.0"/>
<line x1="436.32" y1="232" x2="439.52" y2="232" stroke="#5a5a5a" stroke-width="1.2"/>
<line x1="436.32" y1="278.8" x2="439.52" y2="278.8" stroke="#5a5a5a" stroke-width="1.2"/>
<line x1="459.64" y1="223.5" x2="459.64" y2="276.1" stroke="#5a5a5a" stroke-width="1.0"/>
<line x1="458.04" y1="223.5" x2="461.24" y2="223.5" stroke="#5a5a5a" stroke-width="1.2"/>
<line x1="458.04" y1="276.1" x2="461.24" y2="276.1" stroke="#5a5a5a" stroke-width="1.2"/>
<line x1="481.36" y1="207.2" x2="481.36" y2="285" stroke="#5a5a5a" stroke-width="1.0"/>
<line x1="479.76" y1="207.2" x2="482.96" y2="207.2" stroke="#5a5a5a" stroke-width="1.2"/>
<line x1="479.76" y1="285" x2="482.96" y2="285" stroke="#5a5a5a" stroke-width="1.2"/>
<line x1="503.08" y1="196.9" x2="503.08" y2="295.3" stroke="#5a5a5a" stroke-width="1.0"/>
<line x1="501.48" y1="196.9" x2="504.68" y2="196.9" stroke="#5a5a5a" stroke-width="1.2"/>
<line x1="501.48" y1="295.3" x2="504.68" y2="295.3" stroke="#5a5a5a" stroke-width="1.2"/>
<line x1="307.6" y1="291.9" x2="307.6" y2="309.2" stroke="#3a3a3a" stroke-width="1.0"/>
<line x1="306" y1="291.9" x2="309.2" y2="291.9" stroke="#3a3a3a" stroke-width="1.2"/>
<line x1="329.32" y1="291.7" x2="329.32" y2="309.2" stroke="#3a3a3a" stroke-width="1.0"/>
<line x1="327.72" y1="291.7" x2="330.92" y2="291.7" stroke="#3a3a3a" stroke-width="1.2"/>
<line x1="351.04" y1="289.4" x2="351.04" y2="309.2" stroke="#3a3a3a" stroke-width="1.0"/>
<line x1="349.44" y1="289.4" x2="352.64" y2="289.4" stroke="#3a3a3a" stroke-width="1.2"/>
<line x1="372.76" y1="241.8" x2="372.76" y2="286.2" stroke="#3a3a3a" stroke-width="1.0"/>
<line x1="371.16" y1="241.8" x2="374.36" y2="241.8" stroke="#3a3a3a" stroke-width="1.2"/>
<line x1="371.16" y1="286.2" x2="374.36" y2="286.2" stroke="#3a3a3a" stroke-width="1.2"/>
<line x1="394.48" y1="225.3" x2="394.48" y2="257.3" stroke="#3a3a3a" stroke-width="1.0"/>
<line x1="392.88" y1="225.3" x2="396.08" y2="225.3" stroke="#3a3a3a" stroke-width="1.2"/>
<line x1="392.88" y1="257.3" x2="396.08" y2="257.3" stroke="#3a3a3a" stroke-width="1.2"/>
<line x1="416.2" y1="272.2" x2="416.2" y2="284.4" stroke="#3a3a3a" stroke-width="1.0"/>
<line x1="414.6" y1="272.2" x2="417.8" y2="272.2" stroke="#3a3a3a" stroke-width="1.2"/>
<line x1="414.6" y1="284.4" x2="417.8" y2="284.4" stroke="#3a3a3a" stroke-width="1.2"/>
<line x1="437.92" y1="267.5" x2="437.92" y2="291.3" stroke="#3a3a3a" stroke-width="1.0"/>
<line x1="436.32" y1="267.5" x2="439.52" y2="267.5" stroke="#3a3a3a" stroke-width="1.2"/>
<line x1="436.32" y1="291.3" x2="439.52" y2="291.3" stroke="#3a3a3a" stroke-width="1.2"/>
<line x1="459.64" y1="249.5" x2="459.64" y2="281.3" stroke="#3a3a3a" stroke-width="1.0"/>
<line x1="458.04" y1="249.5" x2="461.24" y2="249.5" stroke="#3a3a3a" stroke-width="1.2"/>
<line x1="458.04" y1="281.3" x2="461.24" y2="281.3" stroke="#3a3a3a" stroke-width="1.2"/>
<line x1="481.36" y1="225.5" x2="481.36" y2="283.1" stroke="#3a3a3a" stroke-width="1.0"/>
<line x1="479.76" y1="225.5" x2="482.96" y2="225.5" stroke="#3a3a3a" stroke-width="1.2"/>
<line x1="479.76" y1="283.1" x2="482.96" y2="283.1" stroke="#3a3a3a" stroke-width="1.2"/>
<line x1="503.08" y1="206.6" x2="503.08" y2="289.4" stroke="#3a3a3a" stroke-width="1.0"/>
<line x1="501.48" y1="206.6" x2="504.68" y2="206.6" stroke="#3a3a3a" stroke-width="1.2"/>
<line x1="501.48" y1="289.4" x2="504.68" y2="289.4" stroke="#3a3a3a" stroke-width="1.2"/>
<line x1="307.8" y1="177.7" x2="307.8" y2="311.9" stroke="#000" stroke-width="1.4"/>
<line x1="304.9" y1="309" x2="503.68" y2="309" stroke="#000" stroke-width="1.6"/>
<line x1="304.9" y1="178.3" x2="307.8" y2="178.3" stroke="#000" stroke-width="1.2"/>
<line x1="304.9" y1="197" x2="307.8" y2="197" stroke="#000" stroke-width="1.2"/>
<line x1="304.9" y1="215.7" x2="307.8" y2="215.7" stroke="#000" stroke-width="1.2"/>
<line x1="304.9" y1="234.4" x2="307.8" y2="234.4" stroke="#000" stroke-width="1.2"/>
<line x1="304.9" y1="253.1" x2="307.8" y2="253.1" stroke="#000" stroke-width="1.2"/>
<line x1="304.9" y1="271.8" x2="307.8" y2="271.8" stroke="#000" stroke-width="1.2"/>
<line x1="304.9" y1="290.5" x2="307.8" y2="290.5" stroke="#000" stroke-width="1.2"/>
<line x1="304.9" y1="309.2" x2="307.8" y2="309.2" stroke="#000" stroke-width="1.2"/>
<line x1="329.32" y1="309" x2="329.32" y2="311.9" stroke="#000" stroke-width="1.2"/>
<line x1="351.04" y1="309" x2="351.04" y2="311.9" stroke="#000" stroke-width="1.2"/>
<line x1="372.76" y1="309" x2="372.76" y2="311.9" stroke="#000" stroke-width="1.2"/>
<line x1="394.48" y1="309" x2="394.48" y2="311.9" stroke="#000" stroke-width="1.2"/>
<line x1="416.2" y1="309" x2="416.2" y2="311.9" stroke="#000" stroke-width="1.2"/>
<line x1="437.92" y1="309" x2="437.92" y2="311.9" stroke="#000" stroke-width="1.2"/>
<line x1="459.64" y1="309" x2="459.64" y2="311.9" stroke="#000" stroke-width="1.2"/>
<line x1="481.36" y1="309" x2="481.36" y2="311.9" stroke="#000" stroke-width="1.2"/>
<line x1="503.08" y1="309" x2="503.08" y2="311.9" stroke="#000" stroke-width="1.2"/>
<text transform="translate(301 181.4) scale(1 1.17)" text-anchor="end" font-size="8.1" font-weight="bold">7000</text>
<text transform="translate(301 200.1) scale(1 1.17)" text-anchor="end" font-size="8.1" font-weight="bold">6000</text>
<text transform="translate(301 218.8) scale(1 1.17)" text-anchor="end" font-size="8.1" font-weight="bold">5000</text>
<text transform="translate(301 237.5) scale(1 1.17)" text-anchor="end" font-size="8.1" font-weight="bold">4000</text>
<text transform="translate(301 256.2) scale(1 1.17)" text-anchor="end" font-size="8.1" font-weight="bold">3000</text>
<text transform="translate(301 274.9) scale(1 1.17)" text-anchor="end" font-size="8.1" font-weight="bold">2000</text>
<text transform="translate(301 293.6) scale(1 1.17)" text-anchor="end" font-size="8.1" font-weight="bold">1000</text>
<text transform="translate(301 312.3) scale(1 1.17)" text-anchor="end" font-size="8.1" font-weight="bold">0</text>
<text x="307.6" y="323.7" text-anchor="middle" font-size="8.3" font-weight="bold">0</text>
<text x="329.32" y="323.7" text-anchor="middle" font-size="8.3" font-weight="bold">1</text>
<text x="351.04" y="323.7" text-anchor="middle" font-size="8.3" font-weight="bold">2</text>
<text x="372.76" y="323.7" text-anchor="middle" font-size="8.3" font-weight="bold">7</text>
<text x="394.48" y="323.7" text-anchor="middle" font-size="8.3" font-weight="bold">14</text>
<text x="416.2" y="323.7" text-anchor="middle" font-size="8.3" font-weight="bold">21</text>
<text x="437.92" y="323.7" text-anchor="middle" font-size="8.3" font-weight="bold">28</text>
<text x="459.64" y="323.7" text-anchor="middle" font-size="8.3" font-weight="bold">42</text>
<text x="481.36" y="323.7" text-anchor="middle" font-size="8.3" font-weight="bold">56</text>
<text x="503.08" y="323.7" text-anchor="middle" font-size="8.3" font-weight="bold">70</text>
<polyline points="307.6,298.1 329.32,294.6 351.04,295.1 372.76,243.4 394.48,234.7 416.2,269.4 437.92,255.4 459.64,249.8 481.36,246.1 503.08,246.1" fill="none" stroke="#8a8a8a" stroke-width="1.7" stroke-linejoin="miter"/>
<rect x="305.6" y="296.1" width="4" height="4" fill="#8a8a8a"/>
<rect x="327.32" y="292.6" width="4" height="4" fill="#8a8a8a"/>
<rect x="349.04" y="293.1" width="4" height="4" fill="#8a8a8a"/>
<rect x="370.76" y="241.4" width="4" height="4" fill="#8a8a8a"/>
<rect x="392.48" y="232.7" width="4" height="4" fill="#8a8a8a"/>
<rect x="414.2" y="267.4" width="4" height="4" fill="#8a8a8a"/>
<rect x="435.92" y="253.4" width="4" height="4" fill="#8a8a8a"/>
<rect x="457.64" y="247.8" width="4" height="4" fill="#8a8a8a"/>
<rect x="479.36" y="244.1" width="4" height="4" fill="#8a8a8a"/>
<rect x="501.08" y="244.1" width="4" height="4" fill="#8a8a8a"/>
<polyline points="307.6,300.9 329.32,303.2 351.04,300.4 372.76,264 394.48,241.3 416.2,278.3 437.92,279.4 459.64,265.4 481.36,254.3 503.08,248" fill="none" stroke="#000" stroke-width="1.8" stroke-linejoin="miter"/>
<path d="M307.6 298.3L310.2 300.9L307.6 303.5L305 300.9Z" fill="#000"/>
<path d="M329.32 300.6L331.92 303.2L329.32 305.8L326.72 303.2Z" fill="#000"/>
<path d="M351.04 297.8L353.64 300.4L351.04 303L348.44 300.4Z" fill="#000"/>
<path d="M372.76 261.4L375.36 264L372.76 266.6L370.16 264Z" fill="#000"/>
<path d="M394.48 238.7L397.08 241.3L394.48 243.9L391.88 241.3Z" fill="#000"/>
<path d="M416.2 275.7L418.8 278.3L416.2 280.9L413.6 278.3Z" fill="#000"/>
<path d="M437.92 276.8L440.52 279.4L437.92 282L435.32 279.4Z" fill="#000"/>
<path d="M459.64 262.8L462.24 265.4L459.64 268L457.04 265.4Z" fill="#000"/>
<path d="M481.36 251.7L483.96 254.3L481.36 256.9L478.76 254.3Z" fill="#000"/>
<path d="M503.08 245.4L505.68 248L503.08 250.6L500.48 248Z" fill="#000"/>
<text x="319.4" y="189.1" font-size="13.4" font-weight="bold">IgM</text>
<text x="489.8" y="335.4" font-size="11.2" font-weight="bold">days</text>
<text transform="translate(273.9 229.2) rotate(-90)" x="0" y="0" font-size="13" font-weight="bold">ng/mL</text>
</svg>
</body></html>
